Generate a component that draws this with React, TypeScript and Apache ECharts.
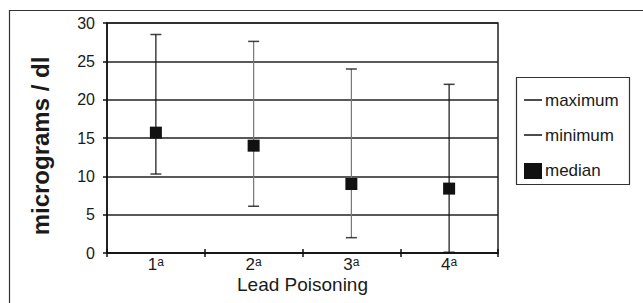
import React, { useEffect, useRef } from "react";
import * as echarts from "echarts";

const categories = ["1", "2", "3", "4"];
const maxVals = [28.5, 27.6, 24.0, 22.0];
const minVals = [10.3, 6.1, 2.0, 0.1];
const medianVals = [15.7, 14.0, 9.0, 8.4];
const yTicks = [0, 5, 10, 15, 20, 25, 30];
const legendNames = ["maximum", "minimum", "median"];
const yTitle = "micrograms / dl";
const xTitle = "Lead Poisoning";

const FONT = "'Liberation Sans', Arial, sans-serif";
const INK = "#1a1a1a";

export default function App() {
  const ref = useRef<HTMLDivElement>(null);
  useEffect(() => {
    const chart = echarts.init(ref.current!, null, { renderer: "svg" });
    const gridLeft = 107;
    const gridTop = 23;
    const gridRight = 145;
    const gridBottom = 50;
    const lx = 516;
    const ly = 77;
    const option: any = {
      animation: false,
      backgroundColor: "#fff",
      grid: {
        left: gridLeft,
        right: gridRight,
        top: gridTop,
        bottom: gridBottom,
        show: true,
        borderColor: "#222",
        borderWidth: 1.5,
        containLabel: false,
      },
      xAxis: [
        {
          type: "category",
          data: categories,
          boundaryGap: true,
          axisLine: { show: true, lineStyle: { color: "#111", width: 1.5 } },
          axisTick: { show: true, inside: false, length: 4, lineStyle: { color: "#111", width: 1.5 } },
          axisLabel: {
            margin: 3,
            formatter: (v: string) => `{n|${v}}{s|a}`,
            rich: {
              n: { fontSize: 17, fontFamily: FONT, color: INK, lineHeight: 17 },
              s: { fontSize: 12, fontFamily: FONT, color: INK, verticalAlign: "top", lineHeight: 17, padding: [0, 0, 6, 0] },
            },
          },
          name: xTitle,
          nameLocation: "middle",
          nameGap: 22,
          nameMoveOverlap: false,
          nameTextStyle: { fontSize: 19, fontFamily: FONT, color: INK },
        },
        {
          type: "category",
          data: categories,
          position: "bottom",
          axisLine: { show: false },
          axisLabel: { show: false },
          axisTick: { show: true, inside: true, length: 4, lineStyle: { color: "#111", width: 1.5 } },
        },
      ],
      yAxis: {
        type: "value",
        min: yTicks[0],
        max: yTicks[yTicks.length - 1],
        interval: 5,
        axisLine: { show: true, lineStyle: { color: "#111", width: 1.5 } },
        axisTick: { show: true, inside: false, length: 4, lineStyle: { color: "#111", width: 1.5 } },
        axisLabel: { margin: 12, fontSize: 16, fontFamily: FONT, color: INK },
        splitLine: { show: true, lineStyle: { color: "#222", width: 1.5 } },
      },
      series: [
        {
          type: "custom",
          name: "range",
          data: categories.map((_, i) => [i, maxVals[i], minVals[i]]),
          encode: { x: 0, y: [1, 2] },
          renderItem: (params: any, api: any) => {
            const x = api.value(0);
            const hi = api.coord([x, api.value(1)]);
            const lo = api.coord([x, api.value(2)]);
            const gray = params.dataIndex === 1 || params.dataIndex === 2;
            return {
              type: "line",
              shape: { x1: hi[0], y1: hi[1], x2: lo[0], y2: lo[1] },
              style: { stroke: gray ? "#777" : "#111", lineWidth: 1.2 },
            };
          },
          z: 2,
        },
        {
          type: "scatter",
          name: legendNames[0],
          data: maxVals,
          symbol: "rect",
          symbolSize: [11, 1.5],
          itemStyle: { color: "#111" },
          z: 3,
        },
        {
          type: "scatter",
          name: legendNames[1],
          data: minVals,
          symbol: "rect",
          symbolSize: [11, 1.5],
          itemStyle: { color: "#111" },
          z: 3,
        },
        {
          type: "scatter",
          name: legendNames[2],
          data: medianVals,
          symbol: "rect",
          symbolSize: 12,
          itemStyle: { color: "#111", opacity: 1 },
          emphasis: { disabled: true },
          z: 4,
        },
      ],
      graphic: [
        {
          type: "text",
          x: 40,
          y: 146,
          rotation: Math.PI / 2,
          style: {
            text: yTitle,
            fontSize: 24,
            fontWeight: "bold",
            fontFamily: FONT,
            fill: INK,
            align: "center",
            verticalAlign: "middle",
          },
        },
        {
          type: "rect",
          shape: { x: 9.5, y: 10.5, width: 700, height: 400 },
          style: { fill: "none", stroke: "#333", lineWidth: 1.2 },
          silent: true,
        },
        {
          type: "rect",
          shape: { x: lx + 0.5, y: ly + 0.5, width: 113, height: 107 },
          style: { fill: "#fff", stroke: "#333", lineWidth: 1.2 },
          silent: true,
        },
        {
          type: "line",
          shape: { x1: lx + 8, y1: ly + 23, x2: lx + 26, y2: ly + 23 },
          style: { stroke: "#111", lineWidth: 1.5 },
        },
        {
          type: "text",
          x: lx + 29,
          y: ly + 23,
          style: { text: legendNames[0], fontSize: 17, fontFamily: FONT, fill: INK, verticalAlign: "middle" },
        },
        {
          type: "line",
          shape: { x1: lx + 8, y1: ly + 58, x2: lx + 26, y2: ly + 58 },
          style: { stroke: "#111", lineWidth: 1.5 },
        },
        {
          type: "text",
          x: lx + 29,
          y: ly + 58,
          style: { text: legendNames[1], fontSize: 17, fontFamily: FONT, fill: INK, verticalAlign: "middle" },
        },
        {
          type: "rect",
          shape: { x: lx + 8, y: ly + 86, width: 18, height: 16 },
          style: { fill: "#111" },
        },
        {
          type: "text",
          x: lx + 29,
          y: ly + 93,
          style: { text: legendNames[2], fontSize: 17, fontFamily: FONT, fill: INK, verticalAlign: "middle" },
        },
      ],
    };
    chart.setOption(option);
    return () => chart.dispose();
  }, []);
  return (
    <div
      ref={ref}
      style={{ position: "fixed", left: 0, top: 0, width: 643, height: 303, background: "#fff" }}
    />
  );
}
